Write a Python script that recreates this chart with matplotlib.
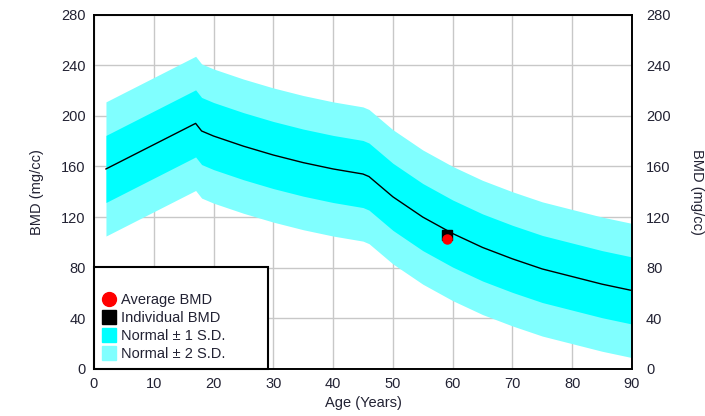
import matplotlib
matplotlib.use("Agg")
import matplotlib.pyplot as plt
import numpy as np
from matplotlib.lines import Line2D

plt.rcParams['font.family'] = ['Liberation Sans', 'DejaVu Sans']

# reference curve
ages = [2, 17, 18, 20, 25, 30, 35, 40, 45, 46, 48, 50, 55, 60, 65, 70, 75, 80, 85, 90]
mean_bmd = [158, 194, 188, 184, 176, 169, 163, 158, 154, 152, 144, 136, 120, 107, 96, 87, 79, 73, 67, 62]
sd = 26.5

patient_age = 59
individual_bmd = 106
average_bmd = 103

legend_labels = ['Average BMD', 'Individual BMD', 'Normal \u00b1 1 S.D.', 'Normal \u00b1 2 S.D.']
xticks = list(range(0, 91, 10))
yticks = list(range(0, 281, 40))

cyan1 = '#00ffff'
cyan2 = '#80ffff'
txt = '#222233'
fs = 10.5


def main():
    x = np.array(ages)
    m = np.array(mean_bmd)

    fig = plt.figure(figsize=(7.05, 4.16), dpi=100)
    ax = fig.add_axes([94/705, 1-369/416, (632-94)/705, (369-14.5)/416])

    ax.fill_between(x, m - 2*sd, m + 2*sd, color=cyan2, lw=0, zorder=1)
    ax.fill_between(x, m - sd, m + sd, color=cyan1, lw=0, zorder=2)
    ax.plot(x, m, color='black', lw=1.0, zorder=3)

    ax.plot([patient_age], [individual_bmd], 's', color='black', ms=7.5, zorder=4)
    ax.plot([patient_age], [average_bmd], 'o', color='red', mec='red', ms=6.5, zorder=5)

    ax.set_xlim(0, 90)
    ax.set_ylim(0, 280)
    ax.set_xticks(xticks)
    ax.set_yticks(yticks)
    ax.grid(True, color='#c8c8c8', lw=1.0, zorder=0)
    ax.set_axisbelow(True)
    ax.tick_params(length=0, labelsize=fs, labelcolor=txt, pad=6)
    for s in ax.spines.values():
        s.set_linewidth(1.2)
    ax.set_xlabel('Age (Years)', fontsize=fs, color=txt, labelpad=3)
    ax.set_ylabel('BMD (mg/cc)', fontsize=fs, color=txt, labelpad=12)

    ax2 = ax.twinx()
    ax2.set_ylim(0, 280)
    ax2.set_yticks(yticks)
    ax2.tick_params(length=0, labelsize=fs, labelcolor=txt, pad=10)
    ax2.set_ylabel('BMD (mg/cc)', fontsize=fs, color=txt, rotation=270, labelpad=24)
    for s in ax2.spines.values():
        s.set_linewidth(1.2)

    handles = [
        Line2D([], [], ls='none', marker='o', color='red', ms=10),
        Line2D([], [], ls='none', marker='s', color='black', ms=10),
        Line2D([], [], ls='none', marker='s', color=cyan1, ms=10),
        Line2D([], [], ls='none', marker='s', color=cyan2, ms=10),
    ]
    leg = ax.legend(handles, legend_labels, title=' ', loc='lower left',
                    bbox_to_anchor=(0, 0, 174/538, 1), mode='expand',
                    fancybox=False, framealpha=1, edgecolor='black',
                    fontsize=fs, title_fontsize=fs, handlelength=0.9,
                    handletextpad=0.4, labelspacing=0.28, borderaxespad=0,
                    borderpad=0.55)
    leg.get_frame().set_linewidth(1.5)
    for t in leg.get_texts():
        t.set_color(txt)
    leg.set_zorder(10)

    fig.savefig('out.png', dpi=100)


if __name__ == "__main__":
    main()
